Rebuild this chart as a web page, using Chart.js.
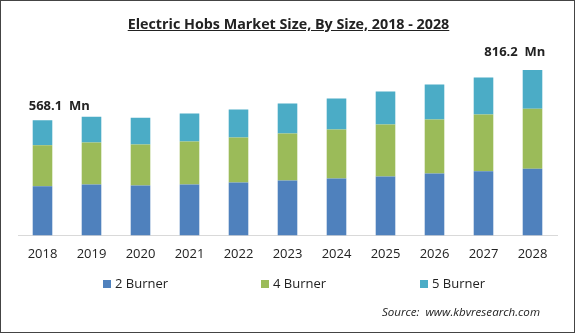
<!DOCTYPE html>
<html>
<head>
    <title>Electric Hobs Market Size</title>
    <style>
        * { margin: 0; padding: 0; box-sizing: border-box; }
        body { background: #fff; font-family: "Open Sans", Arial, sans-serif; }
        .frame {
            position: relative;
            width: 575px;
            height: 333px;
            border: 1px solid #444;
            overflow: hidden;
        }
        canvas { position: absolute; left: 0; top: 0; }
        .title {
            position: absolute;
            top: 13px;
            left: 0;
            width: 575px;
            text-align: center;
            font-size: 14.3px;
            font-weight: bold;
            color: #222;
            text-decoration: underline;
        }
        .legend {
            position: absolute;
            top: 273px;
            left: 0;
            width: 575px;
            font-size: 13px;
            color: #222;
        }
        .legend span { position: absolute; white-space: nowrap; }
        .legend i {
            display: inline-block;
            width: 8px;
            height: 8px;
            margin-right: 4px;
            vertical-align: 0px;
        }
        .source {
            position: absolute;
            top: 303px;
            right: 34px;
            font-size: 11.6px;
            font-style: italic;
            color: #222;
        }
    </style>
</head>
<body>
<div class="frame">
    <canvas id="chart" width="575" height="333"></canvas>
    <div class="title">Electric Hobs Market Size, By Size, 2018 - 2028</div>
    <div class="legend" id="legend"></div>
    <div class="source">Source:&nbsp; www.kbvresearch.com</div>
</div>
<script src="https://cdn.jsdelivr.net/npm/chart.js"></script>
<script>
    // dados (Mn)
    var years = ['2018', '2019', '2020', '2021', '2022', '2023', '2024', '2025', '2026', '2027', '2028'];
    var burner2 = [242, 251, 246, 251, 261, 271, 281, 291, 306, 316, 329];
    var burner4 = [203, 207, 202, 212, 222, 232, 242, 256, 266, 281, 295.5];
    var burner5 = [123.1, 128, 133, 138, 138, 148, 153, 163, 173, 182, 191.7];
    var seriesNames = ['2 Burner', '4 Burner', '5 Burner'];
    var colors = ['#4f81bd', '#9bbb59', '#4bacc6'];

    // rótulo do total no primeiro e último ano
    var totalLabels = {
        id: 'totalLabels',
        afterDatasetsDraw: function (chart) {
            var ctx = chart.ctx;
            var top = chart.getDatasetMeta(2).data;
            var last = years.length - 1;
            ctx.save();
            ctx.font = 'bold 13px "Open Sans", Arial, sans-serif';
            ctx.fillStyle = '#222';
            ctx.textBaseline = 'middle';
            [0, last].forEach(function (i) {
                var total = burner2[i] + burner4[i] + burner5[i];
                var bar = top[i];
                var txt = total.toFixed(1) + '  Mn';
                if (i === 0) {
                    ctx.textAlign = 'left';
                    ctx.fillText(txt, bar.x - bar.width / 2 - 4, bar.y - 14);
                } else {
                    ctx.textAlign = 'right';
                    ctx.fillText(txt, bar.x + bar.width / 2 + 3, bar.y - 18);
                }
            });
            ctx.restore();
        }
    };

    var ctx = document.getElementById('chart').getContext('2d');
    var chart = new Chart(ctx, {
        type: 'bar',
        data: {
            labels: years,
            datasets: [
                { label: seriesNames[0], data: burner2, backgroundColor: colors[0] },
                { label: seriesNames[1], data: burner4, backgroundColor: colors[1] },
                { label: seriesNames[2], data: burner5, backgroundColor: colors[2] }
            ]
        },
        options: {
            responsive: false,
            animation: false,
            layout: { padding: { top: 52, left: 17, right: 19, bottom: 61 } },
            categoryPercentage: 0.8,
            barPercentage: 0.5,
            plugins: {
                legend: { display: false },
                tooltip: { enabled: false }
            },
            scales: {
                x: {
                    stacked: true,
                    grid: { display: false, drawTicks: false },
                    border: { display: true, color: '#d9d9d9', width: 1 },
                    ticks: {
                        color: '#222',
                        padding: 11,
                        font: { family: '"Open Sans", Arial, sans-serif', size: 13 }
                    }
                },
                y: {
                    stacked: true,
                    display: false,
                    min: 0,
                    max: 900
                }
            }
        },
        plugins: [totalLabels]
    });

    // legenda em HTML
    var legendPos = [102, 260, 419];
    var legend = document.getElementById('legend');
    seriesNames.forEach(function (name, i) {
        var s = document.createElement('span');
        s.style.left = legendPos[i] + 'px';
        s.innerHTML = '<i style="background:' + colors[i] + '"></i>' + name;
        legend.appendChild(s);
    });
</script>
</body>
</html>
